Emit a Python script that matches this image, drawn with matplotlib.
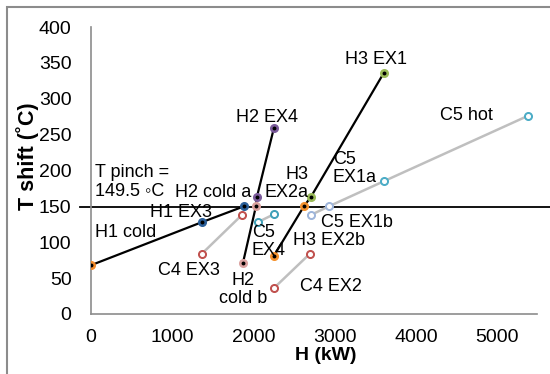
import matplotlib.pyplot as plt
from matplotlib.patches import Rectangle

plt.rcParams['font.family'] = ['Liberation Sans', 'DejaVu Sans']

# hot streams (black lines), H in kW, T shift in C
h1_x = [0, 1365, 1882]
h1_y = [68, 128, 150]
h1_c = ['#F08A2C', '#2A5F99', '#2A5F99']

h2_x = [1870, 2030, 2042, 2251]
h2_y = [71, 150, 163, 259]
h2_c = ['#DBA3A1', '#D9A09C', '#7A5A9A', '#7A5A9A']

h3_x = [2251, 2620, 2706, 3604]
h3_y = [81, 150, 163, 336]
h3_c = ['#F5922E', '#F5922E', '#9BBB59', '#9BBB59']

# cold streams (grey lines)
c4ex3_x = [1365, 1857]
c4ex3_y = [84, 138]
c4ex3_c = ['#C0504D', '#C0504D']

c5ex4_x = [2054, 2251]
c5ex4_y = [128, 139]
c5ex4_c = ['#3FA0B8', '#3FA0B8']

c4ex2_x = [2251, 2694]
c4ex2_y = [36, 84]
c4ex2_c = ['#C0504D', '#C0504D']

c5_x = [2706, 2927, 3604, 5375]
c5_y = [138, 150, 185, 276]
c5_c = ['#9EB5DA', '#9EB5DA', '#4BACC6', '#4BACC6']

t_pinch = 149.5

labels = ['H1 cold', 'H1 EX3', 'H2 cold a', 'EX2a', 'H2 EX4', 'H3 EX1', 'C5 hot',
          'H3', 'C5\nEX1a', 'T pinch =\n149.5 \u25e6C', 'C5\nEX4', 'C5 EX1b',
          'H3 EX2b', 'C4 EX3', 'C4 EX2']
label_pos = [(49, 114), (726, 141), (1033, 170), (2140, 170), (1783, 274),
             (3124, 355), (4293, 276), (2398, 195), (2977, 203), (49, 184),
             (1980, 101), (2830, 127), (2485, 102), (824, 60), (2570, 38)]

fig = plt.figure(figsize=(5.5, 3.74), dpi=100)
ax = fig.add_axes([91/550, 1-314/374, 446/550, 287/374])

# chart border (cropped at right/bottom in original)
fig.patches.append(Rectangle((7/550, -0.1), 1.2, 1-7/374+0.1, transform=fig.transFigure,
                             fill=False, edgecolor='#8C8C8C', lw=1.5))


def stream(xs, ys, cols, line_col, dot_col):
    ax.plot(xs, ys, color=line_col, lw=1.6 if line_col == 'black' else 1.8, zorder=2)
    for x, y, c in zip(xs, ys, cols):
        ax.plot(x, y, 'o', ms=5.5, color=c, mec=c, zorder=3)
        ax.plot(x, y, 'o', ms=1.8 if dot_col == 'black' else 2.6, color=dot_col, mec=dot_col, zorder=4)


stream(c4ex3_x, c4ex3_y, c4ex3_c, '#BFBFBF', 'white')
stream(c5ex4_x, c5ex4_y, c5ex4_c, '#BFBFBF', 'white')
stream(c4ex2_x, c4ex2_y, c4ex2_c, '#BFBFBF', 'white')
stream(c5_x, c5_y, c5_c, '#BFBFBF', 'white')
stream(h1_x, h1_y, h1_c, 'black', 'black')
stream(h2_x, h2_y, h2_c, 'black', 'black')
stream(h3_x, h3_y, h3_c, 'black', 'black')

ax.plot([-135, 5650], [t_pinch, t_pinch], color='black', lw=1.3, clip_on=False, zorder=1)

for txt, (x, y) in zip(labels, label_pos):
    ax.text(x, y, txt, fontsize=13, ha='left', va='center', linespacing=1.1)
ax.text(1870, 34, 'H2\ncold b', fontsize=13, ha='center', va='center', linespacing=1.1)

ax.set_xlim(0, 5490)
ax.set_ylim(0, 400)
ax.set_xticks([0, 1000, 2000, 3000, 4000, 5000])
ax.set_yticks(range(0, 401, 50))
ax.tick_params(length=0, labelsize=14)
ax.tick_params(axis='y', pad=14)
ax.tick_params(axis='x', pad=11)
for s in ['top', 'right']:
    ax.spines[s].set_visible(False)
for s in ['left', 'bottom']:
    ax.spines[s].set_color('#8C8C8C')
    ax.spines[s].set_linewidth(1.2)

fig.text(326/550, 1-355/374, 'H (kW)', fontsize=14, fontweight='bold', ha='center', va='center')
fig.text(28/550, 1-156/374, 'T shift (\u02daC)', fontsize=15.5, fontweight='bold',
         rotation=90, ha='center', va='center')

fig.savefig('out.png', dpi=100)
